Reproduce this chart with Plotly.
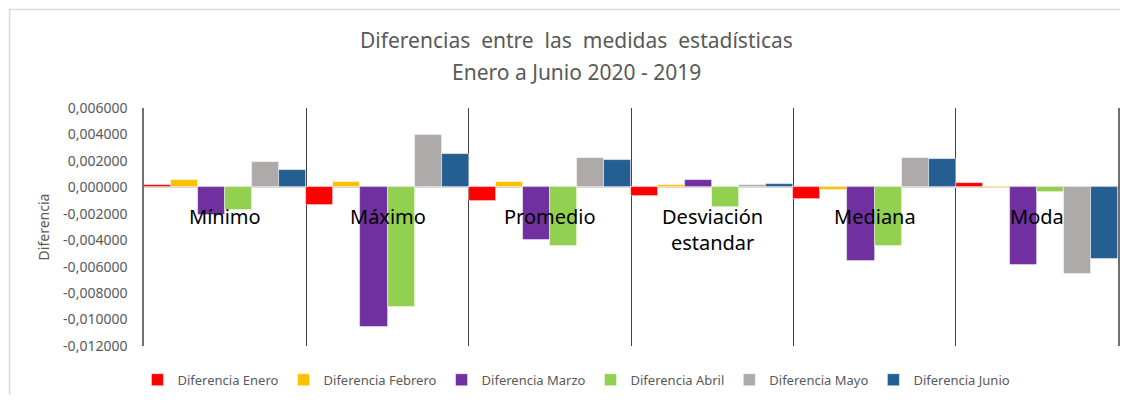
import plotly.graph_objects as go

# categorias y series
categorias = ["Mínimo", "Máximo", "Promedio", "Desviación<br>estandar", "Mediana", "Moda"]
series = ["Diferencia Enero", "Diferencia Febrero", "Diferencia Marzo",
          "Diferencia Abril", "Diferencia Mayo", "Diferencia Junio"]

enero = [0.00015, -0.00135, -0.00102, -0.00069, -0.00085, 0.00031]
febrero = [0.00059, 0.00041, 0.00041, 0.00014, -0.00020, -0.00005]
marzo = [-0.00210, -0.01053, -0.00396, 0.00059, -0.00558, -0.00590]
abril = [-0.00168, -0.00902, -0.00444, -0.00152, -0.00444, -0.00034]
mayo = [0.00195, 0.00396, 0.00225, 0.00014, 0.00225, -0.00656]
junio = [0.00134, 0.00253, 0.00207, 0.00024, 0.00217, -0.00540]

colores = ["#FF0000", "#FFC000", "#7030A0", "#92D050", "#AEAAAA", "#255E91"]

tick_vals = [0.006, 0.004, 0.002, 0.0, -0.002, -0.004, -0.006, -0.008, -0.010, -0.012]
tick_text = ["0,006000", "0,004000", "0,002000", "0,000000", "-0,002000", "-0,004000",
             "-0,006000", "-0,008000", "-0,010000", "-0,012000"]

titulo = ["Diferencias  entre  las  medidas  estadísticas", "Enero a Junio 2020 - 2019"]

gris = "#595959"
fuente = "Noto Sans"

fig = go.Figure()
for nombre, valores, color in zip(series, [enero, febrero, marzo, abril, mayo, junio], colores):
    fig.add_trace(go.Bar(
        x=categorias, y=valores, name=nombre,
        marker=dict(color=color, line=dict(color="rgba(255,255,255,0.6)", width=0.8)),
    ))

# etiquetas de categoria junto al eje en cero (como Excel)
for cat in categorias:
    fig.add_annotation(x=cat, y=0, text=cat, showarrow=False, yanchor="top",
                       yshift=-14, font=dict(family=fuente, size=20, color="#000000"))

# titulo en dos lineas
fig.add_annotation(xref="paper", yref="paper", x=0.444, y=1.285, text=titulo[0],
                   showarrow=False, xanchor="center", yanchor="middle",
                   font=dict(family=fuente, size=21, color=gris))
fig.add_annotation(xref="paper", yref="paper", x=0.444, y=1.151, text=titulo[1],
                   showarrow=False, xanchor="center", yanchor="middle",
                   font=dict(family=fuente, size=21, color=gris))

fig.update_layout(
    width=1112, height=387,
    paper_bgcolor="white", plot_bgcolor="white",
    barmode="group", bargap=0, bargroupgap=0,
    margin=dict(l=136, r=0, t=100, b=48),
    legend=dict(orientation="h", x=0.444, xanchor="center", y=-0.142, yanchor="middle",
                font=dict(family=fuente, size=13, color=gris),
                itemwidth=30, traceorder="normal"),
    font=dict(family=fuente, color=gris),
    shapes=[dict(type="rect", xref="paper", yref="paper",
                 x0=-0.138, x1=1.1, y0=-0.4, y1=1.414,
                 line=dict(color="#D9D9D9", width=1.5))],
)

fig.update_xaxes(type="category", tickson="boundaries", showgrid=True,
                 gridcolor="#404040", gridwidth=1, showticklabels=False,
                 ticks="", showline=False, zeroline=False)
fig.update_yaxes(range=[-0.012, 0.006], tickvals=tick_vals, ticktext=tick_text,
                 showgrid=False, zeroline=True, zerolinecolor="#D9D9D9", zerolinewidth=2,
                 showline=True, mirror=True, linecolor="#6f6f6f", linewidth=1.5,
                 tickfont=dict(family=fuente, size=14, color=gris), ticklabelstandoff=12,
                 title=dict(text="Diferencia", font=dict(family=fuente, size=14, color=gris),
                            standoff=10))

fig.write_html("out.html")
